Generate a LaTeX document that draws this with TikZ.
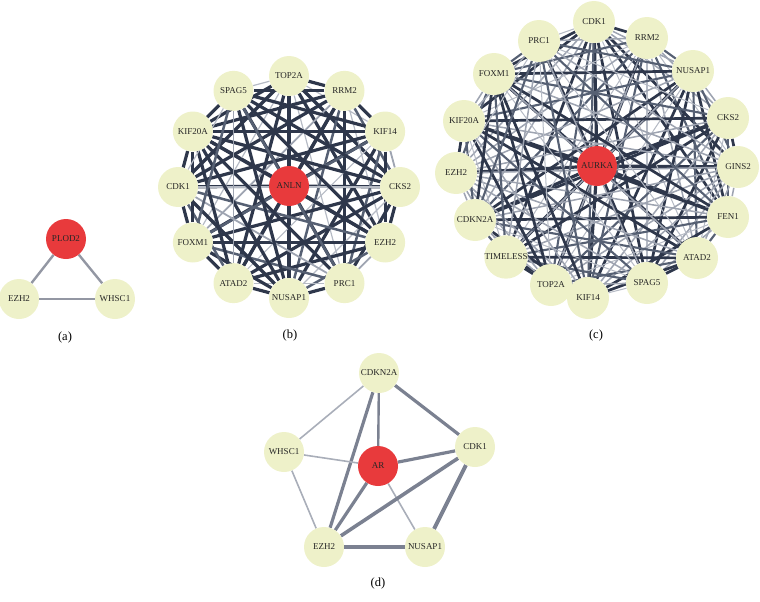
\documentclass[tikz,border=0pt]{standalone}
\usepackage{fontspec}
\setmainfont{Liberation Serif}
\usetikzlibrary{backgrounds}
\definecolor{genefill}{HTML}{EEF1C9}
\definecolor{hubfill}{HTML}{E83A3C}
\definecolor{edgedark}{HTML}{2E374B}
\definecolor{edgemid}{HTML}{566073}
\definecolor{edgelight}{HTML}{9EA4B1}
\definecolor{dgrey}{HTML}{7B8191}
\definecolor{dlight}{HTML}{A9AEB9}
\definecolor{agrey}{HTML}{9397A3}

\begin{document}
\begin{tikzpicture}[
  x=1pt, y=-1pt,
  gene/.style={circle, fill=genefill, minimum size=40, inner sep=0pt, text=black!85, font=\fontsize{9}{10}\selectfont},
  hub/.style={gene, fill=hubfill},
  panel/.style={font=\fontsize{12.5}{14}\selectfont},
  linkstrong/.style={draw=edgedark, line width=3.2},
  linkmid/.style={draw=edgemid, line width=2.5},
  linkweak/.style={draw=edgelight, line width=1.8},
  linkfaint/.style={draw=edgelight!75, line width=1.2},
  w0/.style=linkstrong, w1/.style=linkstrong, w2/.style=linkstrong, w3/.style=linkmid,
  w4/.style=linkstrong, w5/.style=linkweak, w6/.style=linkmid, w7/.style=linkfaint,
  w8/.style=linkstrong,
  v0/.style=linkstrong, v1/.style=linkmid, v2/.style=linkweak, v3/.style=linkstrong,
  v4/.style=linkfaint, v5/.style=linkmid, v6/.style=linkstrong, v7/.style=linkweak,
  v8/.style=linkstrong,
  dthick/.style={draw=dgrey, line width=3.2},
  dthin/.style={draw=dlight, line width=1.6},
  alink/.style={draw=agrey, line width=2.4},
]
\useasboundingbox (0,0) rectangle (760,602);

\node[hub] (a0) at (66,239) {PLOD2};
\node[gene] (a1) at (19,299) {EZH2};
\node[gene] (a2) at (115,299) {WHSC1};
\node[panel] (alabel) at (65,337) {(a)};
\begin{scope}[on background layer]
\draw[alink] (a0) -- (a1);
\draw[alink] (a0) -- (a2);
\draw[alink] (a1) -- (a2);
\end{scope}

\node[hub] (b0) at (289,186) {ANLN};
\foreach \lab [count=\k] in {TOP2A,RRM2,KIF14,CKS2,EZH2,PRC1,NUSAP1,ATAD2,FOXM1,CDK1,KIF20A,SPAG5}
  \node[gene] (b\k) at ({289+111*cos(90-30*(\k-1))},{187-111*sin(90-30*(\k-1))}) {\lab};
\node[panel] (blabel) at (290,335) {(b)};
\begin{scope}[on background layer]
\foreach \i in {1,...,12}
  \draw[linkstrong] (b0) -- (b\i);
\foreach \i in {1,...,11}{
  \pgfmathtruncatemacro\inext{\i+1}
  \foreach \j in {\inext,...,12}{
    \pgfmathtruncatemacro\w{mod(7*\i+11*\j+\i*\j,9)}
    \draw[w\w] (b\i) -- (b\j);
  }
}
\end{scope}

\node[hub] (c0) at (597,166) {AURKA};
\foreach \lab/\x/\y [count=\k] in {CDK1/594/22, RRM2/647/38, NUSAP1/693/71, CKS2/728/118,
    GINS2/738/167, FEN1/728/217, ATAD2/697/258, SPAG5/647/283, KIF14/588/298,
    TOP2A/551/285, TIMELESS/506/257, CDKN2A/475/220, EZH2/456/173, KIF20A/464/121,
    FOXM1/494/74, PRC1/539/41}
  \node[gene, minimum size=42] (c\k) at (\x,\y) {\lab};
\node[panel] (clabel) at (596,335) {(c)};
\begin{scope}[on background layer]
\foreach \i in {1,...,16}
  \draw[linkstrong] (c0) -- (c\i);
\foreach \i in {1,...,15}{
  \pgfmathtruncatemacro\inext{\i+1}
  \foreach \j in {\inext,...,16}{
    \pgfmathtruncatemacro\w{mod(5*\i+13*\j+\i*\j,9)}
    \draw[v\w, line width=0.85*\pgflinewidth] (c\i) -- (c\j);
  }
}
\end{scope}

\node[gene] (d1) at (379,373) {CDKN2A};
\node[gene] (d2) at (284,452) {WHSC1};
\node[hub] (d0) at (378,466) {AR};
\node[gene] (d3) at (475,447) {CDK1};
\node[gene] (d4) at (324,547) {EZH2};
\node[gene] (d5) at (425,547) {NUSAP1};
\node[panel] (dlabel) at (378,583) {(d)};
\begin{scope}[on background layer]
\draw[dthin] (d1) -- (d2);
\draw[dthick] (d1) -- (d4);
\draw[dthick, line width=2.4] (d1) -- (d0);
\draw[dthick] (d1) -- (d3);
\draw[dthin] (d2) -- (d0);
\draw[dthin] (d2) -- (d4);
\draw[dthick] (d0) -- (d3);
\draw[dthick] (d0) -- (d4);
\draw[dthin] (d0) -- (d5);
\draw[dthick, line width=3.6] (d3) -- (d4);
\draw[dthick, line width=4] (d3) -- (d5);
\draw[dthick] (d4) -- (d5);
\end{scope}
\end{tikzpicture}
\end{document}
